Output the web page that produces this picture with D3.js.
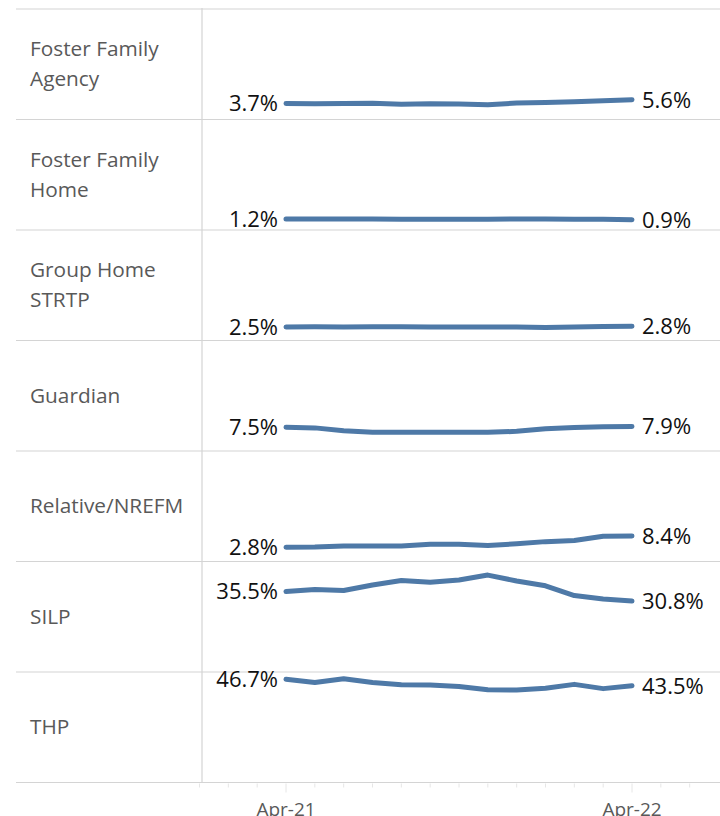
<!DOCTYPE html>
<html>
<head>
<meta charset="utf-8">
<script src="https://cdn.jsdelivr.net/npm/d3@7"></script>
<style>
  body { margin: 0; background: #fff; }
  text { font-family: "Open Sans", sans-serif; }
</style>
</head>
<body>
<svg id="chart" width="720" height="816"></svg>
<script>
// Données : part (%) de chaque type de placement, Apr-21 à Apr-22
var months = ["Apr-21", "May-21", "Jun-21", "Jul-21", "Aug-21", "Sep-21", "Oct-21",
              "Nov-21", "Dec-21", "Jan-22", "Feb-22", "Mar-22", "Apr-22"];
var categories = ["Foster Family\nAgency", "Foster Family\nHome", "Group Home\nSTRTP",
                  "Guardian", "Relative/NREFM", "SILP", "THP"];
var fosterFamilyAgency = [3.7, 3.6, 3.7, 3.8, 3.3, 3.6, 3.5, 3.1, 3.9, 4.2, 4.6, 5.0, 5.6];
var fosterFamilyHome   = [1.2, 1.2, 1.2, 1.2, 1.15, 1.15, 1.15, 1.15, 1.25, 1.2, 1.15, 1.05, 0.9];
var groupHomeStrtp     = [2.5, 2.6, 2.5, 2.6, 2.6, 2.5, 2.5, 2.4, 2.5, 2.2, 2.4, 2.7, 2.8];
var guardian           = [7.5, 7.2, 5.8, 5.0, 5.0, 5.0, 5.0, 5.0, 5.5, 6.8, 7.4, 7.7, 7.9];
var relativeNrefm      = [2.8, 2.9, 3.4, 3.4, 3.4, 4.3, 4.3, 3.7, 4.5, 5.6, 6.2, 8.3, 8.4];
var silp               = [35.5, 36.5, 36.0, 38.7, 40.9, 40.1, 41.2, 43.6, 40.7, 38.3, 33.5, 31.8, 30.8];
var thp                = [46.7, 45.1, 47.0, 45.1, 44.0, 43.9, 43.2, 41.5, 41.4, 42.3, 44.2, 42.1, 43.5];
var axisLabels = ["Apr-21", "Apr-22"];

var series = [fosterFamilyAgency, fosterFamilyHome, groupHomeStrtp, guardian,
              relativeNrefm, silp, thp];

var svg = d3.select("#chart");
var top0 = 9, panelH = 110.5, left0 = 16, divX = 202, right0 = 720;
var bottom0 = top0 + panelH * categories.length;

// Échelles communes à tous les panneaux
var x = d3.scaleLinear().domain([0, months.length - 1]).range([286, 632]);
var y = d3.scaleLinear().domain([-4.2, 50.3]).range([panelH, 0]);
var line = d3.line().x((d, i) => x(i)).y(d => y(d));

// Lignes de grille horizontales
svg.append("g").selectAll("line")
    .data(d3.range(categories.length + 1))
    .enter().append("line")
    .attr("x1", left0).attr("x2", right0)
    .attr("y1", d => top0 + d * panelH).attr("y2", d => top0 + d * panelH)
    .style("stroke", "#d4d4d4").style("stroke-width", 1.2);

// Séparateur vertical
svg.append("line")
    .attr("x1", divX).attr("x2", divX)
    .attr("y1", top0 - 1).attr("y2", bottom0)
    .style("stroke", "#d4d4d4").style("stroke-width", 1.2);

// Axe du bas (mois)
var tickIdx = d3.range(-3, 15).filter(i => x(i) <= right0);
svg.append("g").selectAll("line")
    .data(tickIdx)
    .enter().append("line")
    .attr("x1", d => x(d)).attr("x2", d => x(d))
    .attr("y1", bottom0 + 1)
    .attr("y2", d => (d === 0 || d === months.length - 1) ? bottom0 + 10 : bottom0 + 5)
    .style("stroke", "#e6e6e6").style("stroke-width", 1);

// Libellés d'axe (coupés en bas comme dans l'original)
svg.append("g").selectAll("text")
    .data(axisLabels)
    .enter().append("text")
    .attr("x", (d, i) => x(i === 0 ? 0 : months.length - 1))
    .attr("y", bottom0 + 33)
    .attr("text-anchor", "middle")
    .style("font-size", "19px")
    .style("fill", "#595959")
    .text(d => d);

// Un panneau par catégorie
var panels = svg.append("g").selectAll("g")
    .data(series)
    .enter().append("g")
    .attr("transform", (d, i) => "translate(0," + (top0 + i * panelH) + ")");

panels.append("text")
    .attr("x", 30)
    .attr("y", (d, i) => {
        var n = categories[i].split("\n").length;
        return panelH / 2 + 7 - (n - 1) * 15;
    })
    .style("font-size", "20.8px")
    .style("fill", "#595959")
    .each(function (d, i) {
        var t = d3.select(this);
        categories[i].split("\n").forEach((s, k) => {
            t.append("tspan").attr("x", 30).attr("dy", k === 0 ? 0 : 30).text(s);
        });
    });

panels.append("path")
    .attr("d", d => line(d))
    .style("fill", "none")
    .style("stroke", "#4e79a7")
    .style("stroke-width", 5)
    .style("stroke-linecap", "round")
    .style("stroke-linejoin", "round");

var fmt = d => d3.format(".1f")(d) + "%";

panels.append("text")
    .attr("x", x(0) - 8)
    .attr("y", d => y(d[0]))
    .attr("dy", "0.36em")
    .attr("text-anchor", "end")
    .style("font-size", "22px")
    .style("fill", "#111")
    .text(d => fmt(d[0]));

panels.append("text")
    .attr("x", x(months.length - 1) + 10)
    .attr("y", d => y(d[d.length - 1]))
    .attr("dy", "0.36em")
    .style("font-size", "22px")
    .style("fill", "#111")
    .text(d => fmt(d[d.length - 1]));
</script>
</body>
</html>
